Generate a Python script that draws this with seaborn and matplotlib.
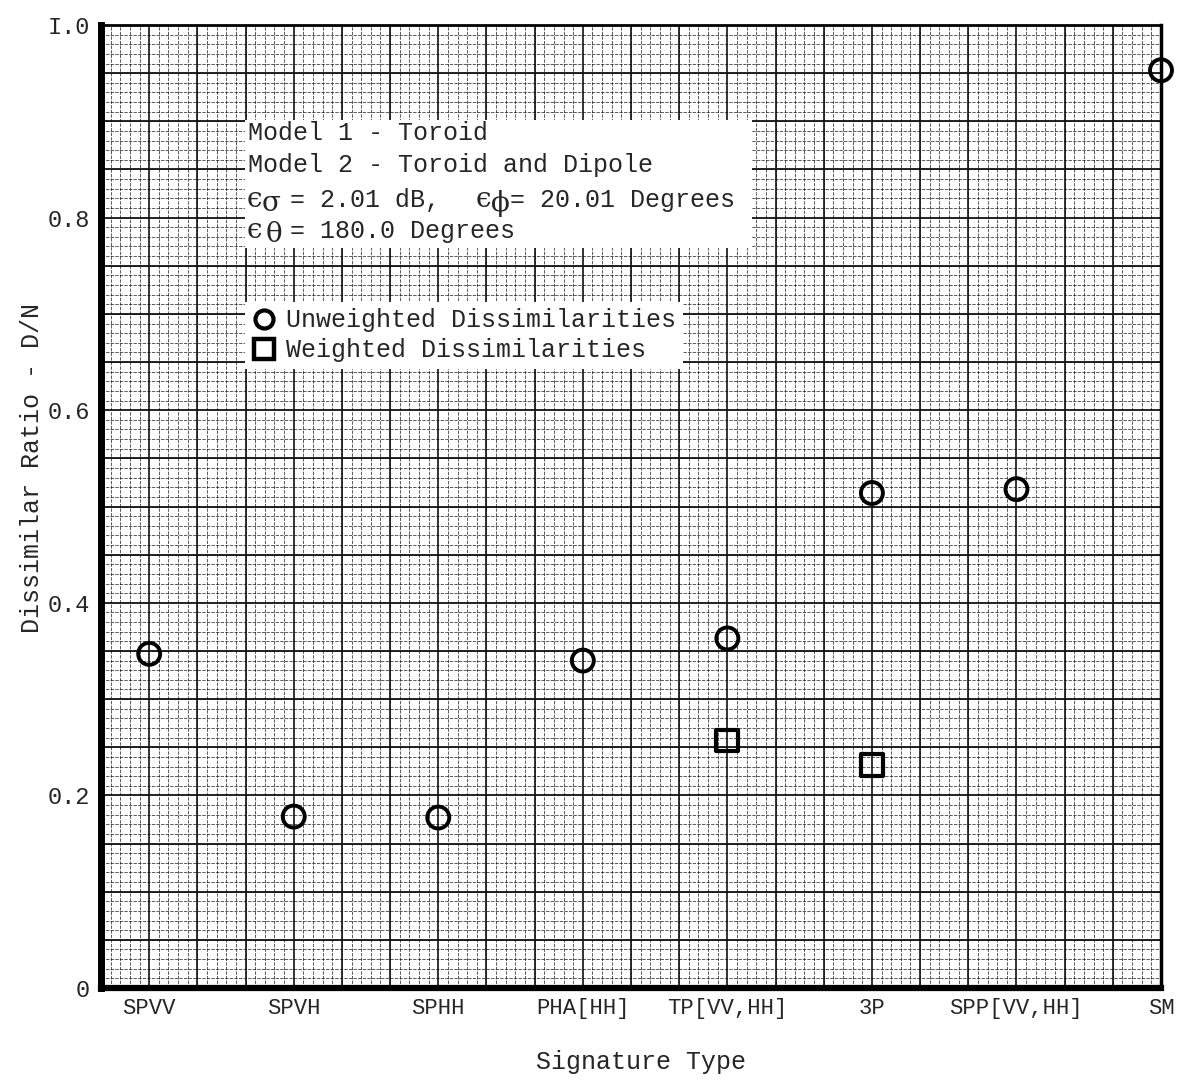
import numpy as np
import pandas as pd
import matplotlib
matplotlib.use("Agg")
import matplotlib.pyplot as plt
import seaborn as sns
from matplotlib.ticker import MultipleLocator
from matplotlib.lines import Line2D

# ---- data ----
categories = ["SPVV", "SPVH", "SPHH", "PHA[HH]", "TP[VV,HH]", "3P", "SPP[VV,HH]", "SM"]
unweighted = [0.347, 0.178, 0.177, 0.340, 0.363, 0.514, 0.518, 0.953]
weighted_cats = ["TP[VV,HH]", "3P"]
weighted = [0.257, 0.232]
ytick_vals = [0, 0.2, 0.4, 0.6, 0.8, 1.0]
ytick_labels = ["0", "0.2", "0.4", "0.6", "0.8", "I.0"]
info_plain = ["Model 1 - Toroid", "Model 2 - Toroid and Dipole"]
eps_line3 = [("ϵ", "σ", "= 2.01 dB,"), ("ϵ", "ϕ", "= 20.01 Degrees")]
eps_line4 = [("ϵ", "θ", "= 180.0 Degrees")]
legend_labels = ["Unweighted Dissimilarities", "Weighted Dissimilarities"]

df_u = pd.DataFrame({"pos": [categories.index(c) for c in categories], "val": unweighted})
df_w = pd.DataFrame({"pos": [categories.index(c) for c in weighted_cats], "val": weighted})

sns.set_theme(style="white")
FONT = "Liberation Mono"
GREEK = "DejaVu Serif"
plt.rcParams["font.family"] = [FONT, "DejaVu Sans"]

W, H = 1179, 1084
L, R, T, B = 101, 1161, 25, 988
fig = plt.figure(figsize=(W / 100, H / 100), dpi=100)
ax = fig.add_axes([L / W, 1 - B / H, (R - L) / W, (B - T) / H])

ax.set_xlim(-1 / 3, 7)
ax.set_ylim(0, 1.0)

# graph-paper grid
ax.xaxis.set_minor_locator(MultipleLocator(1 / 15))
ax.yaxis.set_minor_locator(MultipleLocator(0.01))
ax.grid(which="minor", color="#111111", lw=0.6, alpha=0.8, linestyle=(0, (4, 1.5)))
for yv in np.arange(0.05, 1.0, 0.05):
    ax.axhline(yv, color="#111111", lw=1.3, zorder=0.5)
for xv in np.arange(0, 7.0, 1 / 3):
    ax.axvline(xv, color="#111111", lw=1.2, zorder=0.5)

sns.scatterplot(data=df_u, x="pos", y="val", ax=ax, marker="o", s=250,
                facecolors="none", edgecolor="black", linewidth=2.8, zorder=5,
                legend=False, clip_on=False)
sns.scatterplot(data=df_w, x="pos", y="val", ax=ax, marker="s", s=250,
                facecolors="none", edgecolor="black", linewidth=3.0, zorder=5,
                legend=False, clip_on=False)

ax.set_xticks(range(len(categories)))
ax.set_xticklabels(categories, fontsize=16, family=FONT)
ax.set_yticks(ytick_vals)
ax.set_yticklabels(ytick_labels, fontsize=17, family=FONT)
ax.tick_params(axis="x", direction="in", length=20, width=4, color="black", pad=7)
ax.tick_params(axis="y", length=0, pad=8)
ax.set_xlabel("")
ax.set_ylabel("")

for side, lw in [("left", 5), ("bottom", 4.5), ("right", 2.5), ("top", 2)]:
    ax.spines[side].set_visible(True)
    ax.spines[side].set_color("black")
    ax.spines[side].set_linewidth(lw)

fig.text(32 / W, 1 - 468 / H, "Dissimilar Ratio - D/N", rotation=90,
         ha="center", va="center", fontsize=18, family=FONT)
fig.text(641 / W, 1 - 1062 / H, "Signature Type", ha="center", va="center",
         fontsize=18, family=FONT)

# info box
fig.patches.append(plt.Rectangle((245 / W, 1 - 248 / H), (752 - 245) / W, (248 - 120) / H,
                                 transform=fig.transFigure, facecolor="white",
                                 edgecolor="none", zorder=3))


def px_text(x, y, s, va="center", **kw):
    fig.text(x / W, 1 - y / H, s, ha="left", va=va, zorder=4, **kw)


for line, yp in zip(info_plain, [133, 165]):
    px_text(248, yp, line, fontsize=18, family=FONT)

for (eps, gr, rest), xs in zip(eps_line3, [(247, 262, 290), (476, 491, 510)]):
    px_text(xs[0], 207, eps, va="baseline", fontsize=20, family=GREEK)
    px_text(xs[1], 211, gr, va="baseline", fontsize=20, family=GREEK)
    px_text(xs[2], 207, rest, va="baseline", fontsize=18, family=FONT)
for (eps, gr, rest), xs in zip(eps_line4, [(247, 266, 290)]):
    px_text(xs[0], 238, eps, va="baseline", fontsize=20, family=GREEK)
    px_text(xs[1], 242, gr, va="baseline", fontsize=20, family=GREEK)
    px_text(xs[2], 238, rest, va="baseline", fontsize=18, family=FONT)

handles = [
    Line2D([], [], marker="o", linestyle="none", markersize=13, markerfacecolor="none",
           markeredgecolor="black", markeredgewidth=3.0),
    Line2D([], [], marker="s", linestyle="none", markersize=14, markerfacecolor="none",
           markeredgecolor="black", markeredgewidth=3.2),
]
leg = ax.legend(handles, legend_labels, loc="upper left",
                bbox_to_anchor=(245 / W, 1 - 302 / H), bbox_transform=fig.transFigure,
                frameon=True, facecolor="white", edgecolor="none", framealpha=1,
                fancybox=False, borderpad=0.25, handletextpad=0.4, labelspacing=0.25,
                handlelength=1.0, borderaxespad=0, prop={"family": FONT, "size": 18})
leg.set_zorder(6)

fig.savefig("out.png", dpi=100, facecolor="white")
